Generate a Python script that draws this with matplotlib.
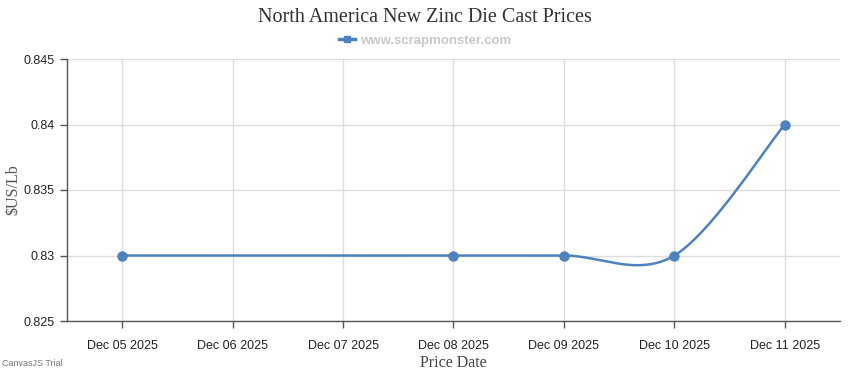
import numpy as np
import matplotlib
matplotlib.use("Agg")
import matplotlib.pyplot as plt
from matplotlib.lines import Line2D

# chart data
dates = ["Dec 05 2025", "Dec 06 2025", "Dec 07 2025", "Dec 08 2025",
         "Dec 09 2025", "Dec 10 2025", "Dec 11 2025"]
point_days = [0, 3, 4, 5, 6]          # offsets from Dec 05
point_prices = [0.83, 0.83, 0.83, 0.83, 0.84]
y_ticks = [0.825, 0.83, 0.835, 0.84, 0.845]
y_tick_labels = ["0.825", "0.83", "0.835", "0.84", "0.845"]

blue = "#4F81BC"


def spline(xs, ys, tension=2.0, steps=40):
    # cardinal spline through the points, same idea as canvasjs "spline" type
    pts = np.column_stack([xs, ys]).astype(float)
    n = len(pts)
    out = [pts[0]]
    for i in range(1, n):
        a = i - 1
        i1 = 0 if a == 0 else a - 1
        i2 = a if a == n - 1 else a + 1
        cp1 = pts[a] + (pts[i2] - pts[i1]) / tension / 3
        i1 = 0 if i == 0 else i - 1
        i2 = i if i == n - 1 else i + 1
        cp2 = pts[i] - (pts[i2] - pts[i1]) / tension / 3
        t = np.linspace(0, 1, steps)[1:, None]
        seg = ((1 - t) ** 3 * pts[a] + 3 * (1 - t) ** 2 * t * cp1
               + 3 * (1 - t) * t ** 2 * cp2 + t ** 3 * pts[i])
        out.extend(seg)
    out = np.array(out)
    return out[:, 0], out[:, 1]


fig = plt.figure(figsize=(8.5, 3.7), dpi=100)
ax = fig.add_axes([67 / 850, 1 - 321 / 370, (840 - 67) / 850, (321 - 59) / 370])

sx, sy = spline(point_days, point_prices)
ax.plot(sx, sy, color=blue, lw=1.8, zorder=3)
ax.plot(point_days, point_prices, "o", color=blue, ms=6.5, zorder=4)

ax.set_xlim(-0.5, len(dates) - 0.5)
ax.set_ylim(y_ticks[0], y_ticks[-1])
ax.set_xticks(range(len(dates)))
ax.set_xticklabels(dates, fontsize=9, family="Liberation Sans", color="#222222")
ax.set_yticks(y_ticks)
ax.set_yticklabels(y_tick_labels, fontsize=9, family="Liberation Sans", color="#222222")
ax.grid(True, color="#dddddd", lw=1)
ax.set_axisbelow(True)

for s in ["top", "right"]:
    ax.spines[s].set_visible(False)
for s in ["left", "bottom"]:
    ax.spines[s].set_color("#555555")
    ax.spines[s].set_linewidth(1)
ax.tick_params(length=5, width=1, color="#555555", pad=4)
ax.tick_params(axis="x", pad=9)

ax.set_xlabel("Price Date", family="Liberation Serif", fontsize=11.5, color="#444444", labelpad=2)
ax.set_ylabel("$US/Lb", family="Liberation Serif", fontsize=11.5, color="#555555", va="center")
ax.yaxis.set_label_coords((13 - 67) / 773, 0.5)

fig.text(0.5, 1 - 17 / 370, "North America New Zinc Die Cast Prices", ha="center", va="center",
         family="Liberation Serif", fontsize=14.5, color="#333333")

# legend
legend_handle = Line2D([], [], color=blue, lw=2.5, marker="s", ms=5)
fig.legend([legend_handle], ["www.scrapmonster.com"], loc="center", bbox_to_anchor=(0.5, 1 - 41 / 370),
           frameon=False, handlelength=1.2, handletextpad=0.4,
           prop={"family": "Liberation Sans", "weight": "bold", "size": 9.5},
           labelcolor="#c8c8c8")

fig.text(2 / 850, 1 - 363 / 370, "CanvasJS Trial", ha="left", va="center",
         family="Liberation Sans", fontsize=6.5, color="#777777")

fig.savefig("out.png", dpi=100)
